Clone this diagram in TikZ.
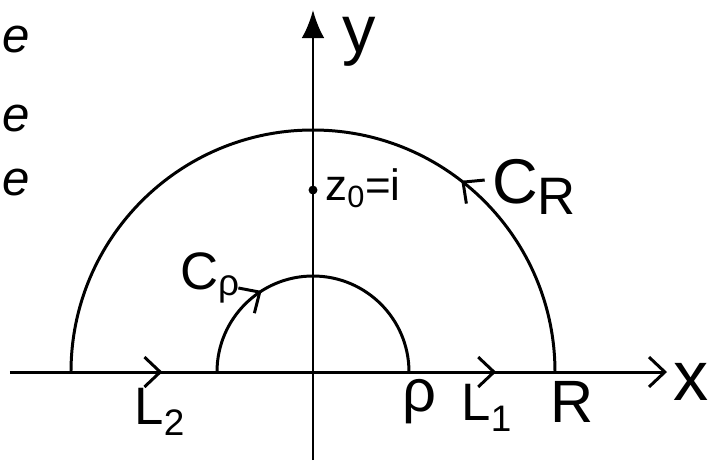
\documentclass[tikz,border=0pt]{standalone}
\usepackage{fontspec}
\setmainfont{Liberation Sans}
\usetikzlibrary{arrows.meta,decorations.markings}

\begin{document}
\begin{tikzpicture}[
    x=0.02cm, y=0.02cm,
    >={Straight Barb[length=9pt,width=17pt,line width=1.7pt]},
    curve/.style={line width=1.7pt},
    lbl/.style={font=\fontsize{30}{32}\selectfont, inner sep=0pt},
    scrap/.style={font=\fontsize{28}{30}\selectfont\itshape, inner sep=0pt, anchor=west},
    flowmarks/.style={postaction={decorate}, decoration={markings, #1}}
]
\useasboundingbox (-313,-96) rectangle (400,372);

% axes
\coordinate (o) at (0,0);
\coordinate (xl) at (-303,0);
\coordinate (xr) at (354,0);
\coordinate (yb) at (0,-88);
\coordinate (yt) at (0,362);
\draw[curve, flowmarks={mark=at position 0.232 with {\arrow{>}},
      mark=at position 0.74 with {\arrow{>}}}, ->] (xl) -- (xr);
\draw[curve, -{Latex[length=16pt,width=13pt]}] (yb) -- (yt);

% contour
\coordinate (bigR) at (242,0);
\coordinate (smallR) at (96,0);
\draw[curve, flowmarks={mark=at position 0.29 with {\arrow{>}}}]
    (bigR) arc[start angle=0, end angle=180, radius=242];
\draw[curve, flowmarks={mark=at position 0.32 with {\arrow{>}}}]
    (-96,0) arc[start angle=180, end angle=0, radius=96];

% pole
\node[circle, fill, inner sep=1.8pt] (pole) at (0,182) {};
\node[lbl, anchor=west, font=\fontsize{25}{27}\selectfont] (polelbl) at (12,184) {z\textsubscript{0}=i};

% labels
\node[lbl, font=\fontsize{38}{40}\selectfont] (ylbl) at (46,330) {y};
\node[lbl, font=\fontsize{40}{42}\selectfont] (xlbl) at (378,-10) {x};
\node[lbl, font=\fontsize{36}{38}\selectfont] (cbig) at (221,185) {C\raisebox{-0.35ex}{\fontsize{30}{32}\selectfont R}};
\node[lbl] (csmall) at (-103,94) {C\textsubscript{ρ}};
\node[lbl, font=\fontsize{34}{36}\selectfont] (rholbl) at (106,-30) {ρ};
\node[lbl] (lone) at (174,-36) {L\textsubscript{1}};
\node[lbl, font=\fontsize{34}{36}\selectfont] (rlbl) at (259,-30) {R};
\node[lbl] (ltwo) at (-153,-40) {L\textsubscript{2}};

% writing at the left edge
\node[scrap] (scrapa) at (-311,332) {e};
\node[scrap] (scrapb) at (-311,254) {e};
\node[scrap] (scrapc) at (-311,190) {e};

\end{tikzpicture}
\end{document}
